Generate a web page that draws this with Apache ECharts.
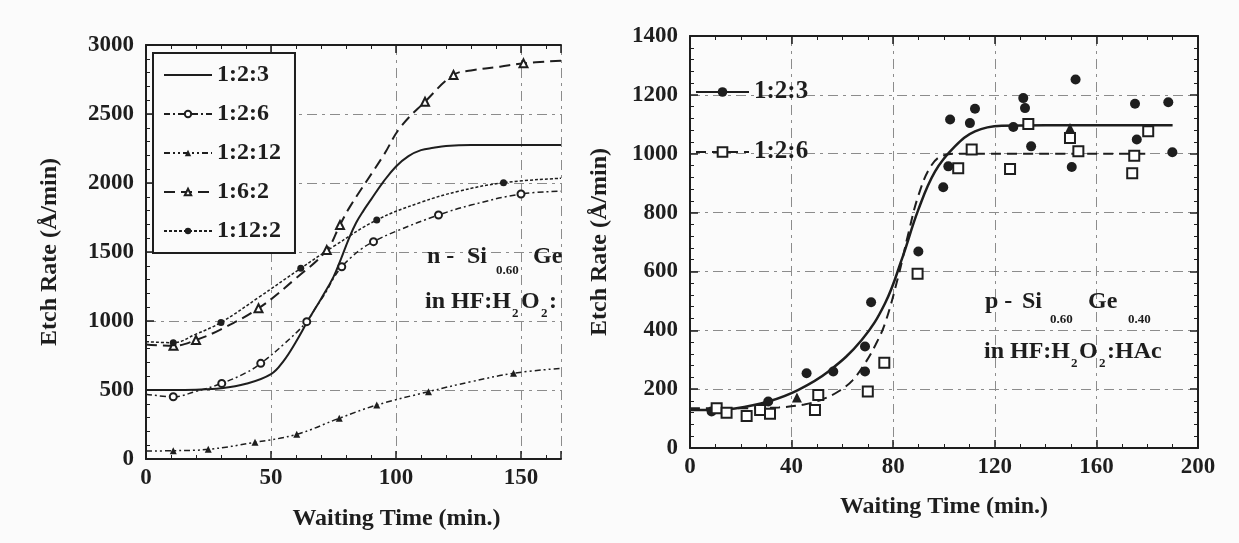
<!DOCTYPE html>
<html>
<head>
<meta charset="utf-8">
<script src="https://cdn.jsdelivr.net/npm/echarts@6/dist/echarts.min.js"></script>
<style>
  html, body { margin: 0; padding: 0; background: #fbfbfb; }
  #chart { width: 1239px; height: 543px; }
</style>
</head>
<body>
<div id="chart"></div>
<script>
// left panel: n-Si0.60Ge0.40, [waiting time (min), etch rate (Å/min)]
const n123Curve = [[0,500],[10,500],[20,502],[30,512],[40,545],[50,615],[55,710],[60,850],[65,1010],[70,1160],[75,1320],[78,1450],[81,1590],[84,1710],[87,1800],[90,1880],[95,2010],[100,2120],[105,2195],[110,2238],[115,2255],[120,2268],[130,2275],[166,2275]]
const n126Curve = [[0,470],[10.9,451],[20,490],[30.3,548],[40,625],[45.9,693],[55,830],[64.3,995],[68,1100],[72,1210],[75,1310],[78.3,1393],[82,1460],[86,1520],[91,1575],[100,1650],[117,1768],[130,1840],[150,1920],[166,1940]]
const n126Pts = [[10.9,451],[30.3,548],[45.9,693],[64.3,995],[78.3,1393],[91,1575],[117,1768],[150,1920]]
const n1212Curve = [[0,58],[10.9,60],[24.9,70],[43.6,121],[60.3,179],[77.3,295],[92.3,391],[113,488],[130,560],[147,621],[166,657]]
const n1212Pts = [[10.9,60],[24.9,70],[43.6,121],[60.3,179],[77.3,295],[92.3,391],[113,488],[147,621]]
const n62Curve = [[0,830],[11,820],[20,862],[30,940],[45,1092],[60,1310],[72.3,1514],[77.6,1696],[81.6,1829],[95,2200],[101.6,2400],[111.6,2589],[123,2783],[130,2815],[141.6,2843],[151,2867],[166,2886]]
const n62Pts = [[11,820],[20,862],[45,1092],[72.3,1514],[77.6,1696],[111.6,2589],[123,2783],[151,2867]]
const n122Curve = [[0,850],[10.9,843],[20,905],[30,990],[45,1170],[61.9,1382],[75,1540],[92.3,1732],[110,1860],[125,1940],[143,2002],[166,2034]]
const n122Pts = [[10.9,843],[30,990],[61.9,1382],[92.3,1732],[143,2002]]

// right panel: p-Si0.60Ge0.40
const p123Fit = [[0,129],[10,130],[17.7,134],[30.8,158],[42.5,197],[54.5,260],[67.6,367],[76.8,492],[83.3,639],[89.9,810],[96.5,940],[104.3,1025],[112.2,1076],[122.7,1095],[140,1097],[190,1097]]
const p126Fit = [[0,135],[20,135],[35,138],[45,148],[52,165],[58.4,192],[64,230],[68.9,288],[73,350],[76.8,424],[82,583],[86,730],[90,860],[95,960],[100,995],[106,1000],[180,1000]]
const p123Pts = [[8.5,124],[30.8,158],[45.9,254],[56.4,260],[68.9,260],[68.9,345],[71.3,495],[89.9,668],[99.7,886],[101.7,957],[102.4,1116],[110.2,1104],[112.2,1153],[127.3,1091],[131.2,1189],[131.9,1155],[134.3,1025],[150.3,955],[151.8,1252],[175.2,1170],[175.9,1048],[188.3,1175],[189.9,1005]]
const p123Tri = [[42.1,172],[149.6,1087]]
const p126Pts = [[10.5,135],[14.4,120],[22.3,109],[27.6,129],[31.5,116],[49.2,129],[50.5,180],[70,192],[76.5,290],[89.6,592],[105.6,951],[110.9,1014],[126,948],[133.2,1101],[149.6,1053],[152.9,1008],[174.1,934],[174.9,993],[180.4,1076]]

const leftNames = ['1:2:3', '1:2:6', '1:2:12', '1:6:2', '1:12:2']
const rightNames = ['p1:2:3', 'p1:2:6']

const ink = '#1e1e1e'
const serif = '"Liberation Serif", "DejaVu Serif", serif'
const gridDash = { color: '#8c8c8c', width: 1, type: [10, 5, 3, 5] }
const labelFont = { color: ink, fontFamily: serif, fontWeight: 'bold', fontSize: 23, formatter: v => String(v) }
const titleFont = { color: ink, fontFamily: serif, fontWeight: 'bold', fontSize: 24 }

function axis(extra) {
  return Object.assign({
    type: 'value',
    nameMoveOverlap: false,
    axisLine: { show: true, onZero: false, lineStyle: { color: ink, width: 2 } },
    axisTick: { show: true, inside: true, length: 8, lineStyle: { color: ink, width: 1.5 } },
    minorTick: { show: true, length: 4, lineStyle: { color: ink, width: 1 } },
    axisLabel: { show: false },
    splitLine: { show: false }
  }, extra)
}

function curve(name, data, xi, symbol, lineType, width) {
  return {
    name, type: 'line', data, xAxisIndex: xi, yAxisIndex: xi === 0 ? 0 : 1,
    smooth: 0.4, symbol, showSymbol: false, clip: true,
    itemStyle: { color: ink },
    lineStyle: { color: ink, width, type: lineType },
    z: 3
  }
}

function marks(data, xi, symbol, size, border) {
  return {
    type: 'scatter', data, xAxisIndex: xi, yAxisIndex: xi === 0 ? 0 : 1,
    symbol, symbolSize: size, clip: true,
    itemStyle: { color: ink, borderColor: ink, borderWidth: border, opacity: 1 },
    z: 4
  }
}

function txt(text, left, top, size) {
  return { type: 'text', left, top, z: 10,
    style: { text, fill: ink, font: 'bold ' + size + 'px ' + serif } }
}

const chart = echarts.init(document.getElementById('chart'))

chart.setOption({
  animation: false,
  backgroundColor: '#fbfbfb',
  grid: [
    { left: 146, top: 45, width: 415, height: 414, outerBoundsMode: 'none' },
    { left: 690, top: 36, width: 508, height: 412, outerBoundsMode: 'none' }
  ],
  xAxis: [
    axis({
      gridIndex: 0, min: 0, max: 166, interval: 50, position: 'bottom',
      minorTick: { show: true, splitNumber: 5, length: 4, lineStyle: { color: ink, width: 1 } },
      axisLabel: Object.assign({ show: true, margin: 8, showMaxLabel: false }, labelFont),
      splitLine: { show: true, lineStyle: gridDash },
      name: 'Waiting Time (min.)', nameLocation: 'middle', nameGap: 48,
      nameTextStyle: Object.assign({ padding: [0, 0, 0, 86] }, titleFont)
    }),
    axis({
      gridIndex: 0, min: 0, max: 166, interval: 50, position: 'top',
      minorTick: { show: true, splitNumber: 5, length: 4, lineStyle: { color: ink, width: 1 } }
    }),
    axis({
      gridIndex: 1, min: 0, max: 200, interval: 40, position: 'bottom',
      minorTick: { show: true, splitNumber: 4, length: 4, lineStyle: { color: ink, width: 1 } },
      axisLabel: Object.assign({ show: true, margin: 8 }, labelFont),
      splitLine: { show: true, lineStyle: gridDash },
      name: 'Waiting Time (min.)', nameLocation: 'middle', nameGap: 47,
      nameTextStyle: titleFont
    }),
    axis({
      gridIndex: 1, min: 0, max: 200, interval: 40, position: 'top',
      minorTick: { show: true, splitNumber: 4, length: 4, lineStyle: { color: ink, width: 1 } }
    })
  ],
  yAxis: [
    axis({
      gridIndex: 0, min: 0, max: 3000, interval: 500, position: 'left',
      minorTick: { show: true, splitNumber: 5, length: 4, lineStyle: { color: ink, width: 1 } },
      axisLabel: Object.assign({ show: true, margin: 12 }, labelFont),
      splitLine: { show: true, lineStyle: gridDash },
      name: 'Etch Rate (Å/min)', nameLocation: 'middle', nameGap: 84,
      nameTextStyle: titleFont
    }),
    axis({
      gridIndex: 1, min: 0, max: 1400, interval: 200, position: 'left',
      minorTick: { show: true, splitNumber: 5, length: 4, lineStyle: { color: ink, width: 1 } },
      axisLabel: Object.assign({ show: true, margin: 12 }, labelFont),
      splitLine: { show: true, lineStyle: gridDash },
      name: 'Etch Rate (Å/min)', nameLocation: 'middle', nameGap: 78,
      nameTextStyle: titleFont
    }),
    axis({
      gridIndex: 1, min: 0, max: 1400, interval: 200, position: 'right',
      minorTick: { show: true, splitNumber: 5, length: 4, lineStyle: { color: ink, width: 1 } }
    })
  ],
  legend: [
    {
      data: [{ name: leftNames[0], itemStyle: { opacity: 0 } }].concat(leftNames.slice(1).map(n => ({ name: n }))),
      orient: 'vertical', left: 153, top: 53,
      padding: [9, 14, 9, 10], itemGap: 13, itemWidth: 48, itemHeight: 8,
      borderColor: ink, borderWidth: 2, backgroundColor: '#fbfbfb',
      selectedMode: false,
      textStyle: { color: ink, fontFamily: serif, fontWeight: 'bold', fontSize: 24, lineHeight: 26 }
    },
    {
      data: rightNames,
      orient: 'vertical', left: 695, top: 79,
      padding: 0, itemGap: 34, itemWidth: 53, itemHeight: 12,
      selectedMode: false,
      formatter: name => name.replace(/^p/, ''),
      textStyle: { color: ink, fontFamily: serif, fontWeight: 'bold', fontSize: 25, lineHeight: 26 }
    }
  ],
  graphic: [
    txt('n -', 427, 245, 24),
    txt('Si', 467, 245, 24),
    txt('0.60', 496, 264, 13),
    txt('Ge', 533, 245, 24),
    txt('in HF:H', 425, 290, 24),
    txt('2', 512, 307, 13),
    txt('O', 521, 290, 24),
    txt('2', 541, 307, 13),
    txt(':', 549, 290, 24),
    txt('p -', 985, 290, 24),
    txt('Si', 1022, 290, 24),
    txt('0.60', 1050, 313, 13),
    txt('Ge', 1088, 290, 24),
    txt('0.40', 1128, 313, 13),
    txt('in HF:H', 984, 340, 24),
    txt('2', 1071, 357, 13),
    txt('O', 1079, 340, 24),
    txt('2', 1099, 357, 13),
    txt(':HAc', 1107, 340, 24)
  ],
  series: [
    curve('1:2:3', n123Curve, 0, 'none', 'solid', 2),
    curve('1:2:6', n126Curve, 0, 'emptyCircle', [6, 3, 2, 3], 1.5),
    curve('1:2:12', n1212Curve, 0, 'triangle', [6, 3, 2, 3, 2, 3], 1.5),
    curve('1:6:2', n62Curve, 0, 'emptyTriangle', [11, 6], 2),
    curve('1:12:2', n122Curve, 0, 'circle', [3, 2], 1.5),
    marks(n126Pts, 0, 'emptyCircle', 7, 1.2),
    marks(n1212Pts, 0, 'triangle', 7, 0),
    marks(n62Pts, 0, 'emptyTriangle', 8, 1.2),
    marks(n122Pts, 0, 'circle', 7, 0),
    curve('p1:2:3', p123Fit, 2, 'circle', 'solid', 2.5),
    curve('p1:2:6', p126Fit, 2, 'emptyRect', [10, 6], 2),
    marks(p123Pts, 2, 'circle', 10, 0),
    marks(p123Tri, 2, 'triangle', 10, 0),
    marks(p126Pts, 2, 'emptyRect', 10, 1.5)
  ]
})
</script>
</body>
</html>
